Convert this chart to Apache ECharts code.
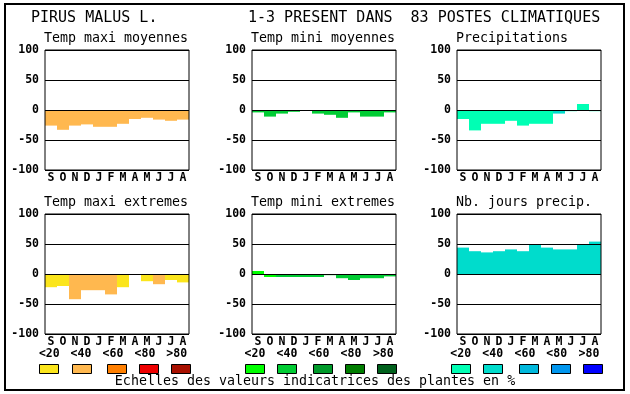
<!DOCTYPE html>
<html><head><meta charset="utf-8">
<script src="https://cdn.jsdelivr.net/npm/echarts@6/dist/echarts.min.js"></script>
<style>html,body{margin:0;padding:0;background:#fff}#c{width:630px;height:394px}</style>
</head><body><div id="c"></div>
<script>
const months = ['S','O','N','D','J','F','M','A','M','J','J','A'];
const yTicks = [-100, -50, 0, 50, 100];
const legendLabels = ['<20','<40','<60','<80','>80'];

const panelTitles = ['Temp maxi moyennes','Temp mini moyennes','Precipitations','Temp maxi extremes','Temp mini extremes','Nb. jours precip.'];

const tmaxMoy = [-26,-33,-26,-24,-28,-28,-23,-15,-13,-16,-18,-16];
const tminMoy = [-4,-11,-6,-3,0,-6,-8,-13,-4,-11,-11,-4];
const precip  = [-15,-34,-23,-23,-18,-26,-23,-23,-6,-2,10,-2];
const tmaxExt = [-22,-20,-42,-27,-27,-34,-22,0,-12,-17,-10,-14];
const tminExt = [5,-5,-5,-5,-5,-5,-2,-7,-10,-7,-7,-4];
const nbJours = [44,38,36,38,41,38,49,44,41,41,49,54];

// colour class (index into the scale) of each bar
const tmaxMoyCls = [1,1,1,1,1,1,1,1,1,1,1,1];
const tminMoyCls = [1,1,1,1,1,1,1,1,1,1,1,1];
const precipCls  = [0,0,0,0,0,0,0,0,1,0,0,0];
const tmaxExtCls = [0,0,1,1,1,1,0,0,0,1,0,0];
const tminExtCls = [0,0,1,1,1,1,1,1,1,1,1,1];
const nbJoursCls = [1,1,1,1,1,1,1,1,1,1,1,1];

const warmScale  = ['#fbe51c','#ffb84f','#ff7f00','#ee0000','#a81000'];
const greenScale = ['#00ff00','#00cc33','#009a2a','#007d00','#00601c'];
const blueScale  = ['#00ffb4','#00dccc','#00b8dc','#0096ee','#0000ff'];

const panels = [
  {data: tmaxMoy, cls: tmaxMoyCls, scale: warmScale,  left: 45,  top: 50},
  {data: tminMoy, cls: tminMoyCls, scale: greenScale, left: 252, top: 50},
  {data: precip,  cls: precipCls,  scale: blueScale,  left: 457, top: 50},
  {data: tmaxExt, cls: tmaxExtCls, scale: warmScale,  left: 45,  top: 214},
  {data: tminExt, cls: tminExtCls, scale: greenScale, left: 252, top: 214},
  {data: nbJours, cls: nbJoursCls, scale: blueScale,  left: 457, top: 214}
];

const MONO = '"DejaVu Sans Mono", monospace';
const W = 144, H = 120;

const grids = [], xAxes = [], yAxes = [], series = [], graphics = [];
panels.forEach((p, i) => {
  grids.push({left: p.left, top: p.top, width: W, height: H, show: true,
    borderColor: '#000', borderWidth: 1, backgroundColor: 'transparent', z: 5});
  xAxes.push({type: 'category', gridIndex: i, data: months,
    axisLine: {show: false}, axisTick: {show: false}, splitLine: {show: false},
    axisLabel: {interval: 0, margin: 2, color: '#000', fontFamily: MONO, fontWeight: 'bold', fontSize: 11.5}});
  yAxes.push({type: 'value', gridIndex: i, min: yTicks[0], max: yTicks[yTicks.length-1], interval: 50, z: 4,
    axisLine: {show: false}, axisTick: {show: false},
    splitLine: {show: true, lineStyle: {color: '#000', width: 1}},
    axisLabel: {margin: 6, color: '#000', fontFamily: MONO, fontWeight: 'bold', fontSize: 11.5}});
  series.push({type: 'bar', xAxisIndex: i, yAxisIndex: i, barWidth: '100%', barGap: 0,
    animation: false, z: 2,
    data: p.data.map((v, k) => ({value: v, itemStyle: {color: p.scale[p.cls[k]]}}))});
  graphics.push({type: 'text', x: p.left - 1, y: (i < 3 ? 38.5 : 202.5),
    style: {text: panelTitles[i], font: '13.3px ' + MONO, fill: '#000', verticalAlign: 'middle'}});
});

// legends under bottom row
const legendLabelX = [[49.3,81,113,145,176.7],[255,287,319,351,383.3],[460.7,492.7,525,556.7,589]];
const swatchX = [[39.3,71.7,107.3,139.3,171.3],[245,277.3,313.3,345.3,377.3],[451.3,483.3,519.3,551.3,583.3]];
const scales = [warmScale, greenScale, blueScale];
for (let c = 0; c < 3; c++) {
  for (let k = 0; k < 5; k++) {
    graphics.push({type: 'text', x: legendLabelX[c][k], y: 354,
      style: {text: legendLabels[k], font: 'bold 11.5px ' + MONO, fill: '#000', align: 'center', verticalAlign: 'middle'}});
    graphics.push({type: 'rect', shape: {x: Math.round(swatchX[c][k]) + 0.5, y: 364.5, width: 19, height: 9},
      style: {fill: scales[c][k], stroke: '#000', lineWidth: 1}});
  }
}

graphics.push({type: 'text', x: 315, y: 382,
  style: {text: 'Echelles des valeurs indicatrices des plantes en %', font: '13.3px ' + MONO, fill: '#000', align: 'center', verticalAlign: 'middle'}});
graphics.push({type: 'text', x: 31, y: 18.5,
  style: {text: 'PIRUS MALUS L.', font: '15px ' + MONO, fill: '#000', verticalAlign: 'middle'}});
graphics.push({type: 'text', x: 248, y: 18.5,
  style: {text: '1-3 PRESENT DANS  83 POSTES CLIMATIQUES', font: '15px ' + MONO, fill: '#000', verticalAlign: 'middle'}});
graphics.push({type: 'rect', shape: {x: 5, y: 4, width: 619, height: 386},
  style: {fill: 'none', stroke: '#000', lineWidth: 2}});

const chart = echarts.init(document.getElementById('c'), null, {renderer: 'canvas'});
chart.setOption({
  animation: false,
  backgroundColor: '#fff',
  grid: grids, xAxis: xAxes, yAxis: yAxes, series: series,
  graphic: graphics
});
</script></body></html>
